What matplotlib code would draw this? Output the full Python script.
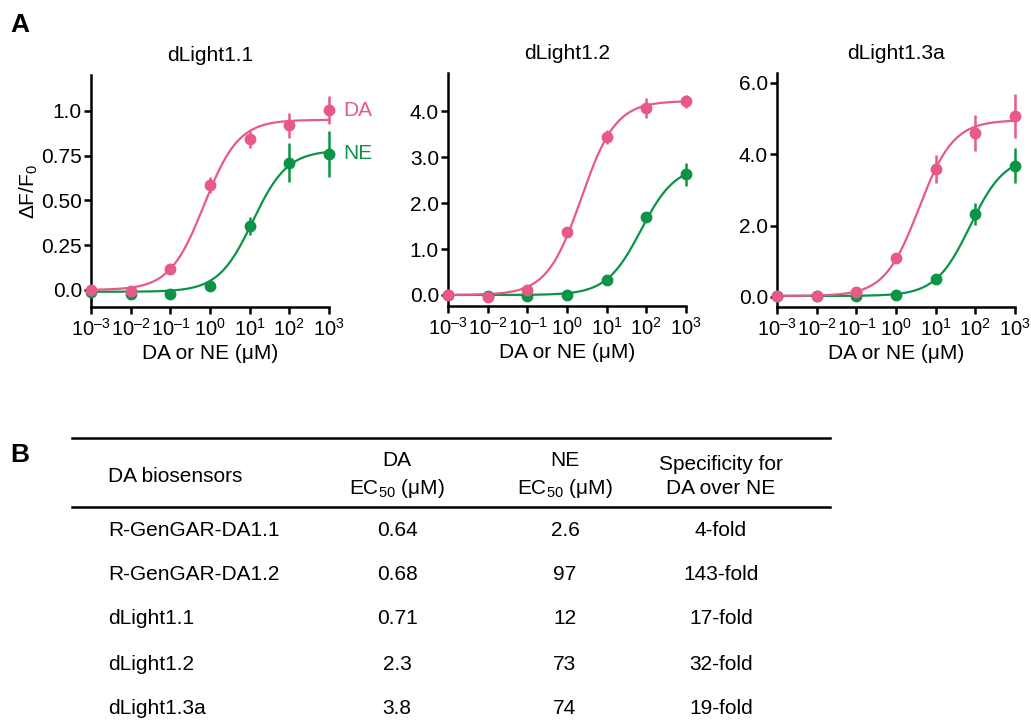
import matplotlib
matplotlib.use("Agg")
import matplotlib.pyplot as plt
import numpy as np

plt.rcParams["font.family"] = ["Liberation Sans", "DejaVu Sans"]
plt.rcParams["mathtext.fontset"] = "custom"
plt.rcParams["mathtext.rm"] = "Liberation Sans"
plt.rcParams["mathtext.it"] = "Liberation Sans:italic"

PINK = "#e8598a"
GREEN = "#0b9446"

# concentracoes (uM)
conc = [1e-3, 1e-2, 1e-1, 1e0, 1e1, 1e2, 1e3]

sensores = ["dLight1.1", "dLight1.2", "dLight1.3a"]

da_vals = [
    [0.0, -0.005, 0.115, 0.585, 0.84, 0.92, 1.005],
    [0.0, -0.04, 0.10, 1.37, 3.43, 4.06, 4.21],
    [0.03, 0.03, 0.13, 1.08, 3.58, 4.59, 5.07],
]
da_err = [
    [0.0, 0.0, 0.0, 0.045, 0.045, 0.07, 0.08],
    [0.0, 0.0, 0.0, 0.0, 0.15, 0.22, 0.15],
    [0.0, 0.0, 0.0, 0.0, 0.4, 0.5, 0.62],
]
ne_vals = [
    [-0.01, -0.02, -0.02, 0.025, 0.355, 0.71, 0.76],
    [0.0, -0.02, -0.02, 0.0, 0.33, 1.70, 2.63],
    [0.03, 0.03, 0.03, 0.06, 0.50, 2.32, 3.68],
]
ne_err = [
    [0.0, 0.0, 0.0, 0.0, 0.05, 0.11, 0.13],
    [0.0, 0.0, 0.0, 0.0, 0.0, 0.1, 0.25],
    [0.0, 0.0, 0.0, 0.0, 0.0, 0.3, 0.48],
]

# parametros do ajuste (Hill, n=1): base, topo, EC50
da_fit = [(0.0, 0.95, 0.71), (0.0, 4.22, 2.3), (0.03, 4.95, 3.8)]
ne_fit = [(-0.01, 0.78, 12), (0.0, 2.82, 73), (0.03, 3.95, 74)]

ylims = [(-0.095, 1.2), (-0.24, 4.83), (-0.28, 6.27)]
yticks = [[0, 0.25, 0.5, 0.75, 1.0], [0, 1, 2, 3, 4], [0, 2, 4, 6]]
ytick_labels = [
    ["0.0", "0.25", "0.50", "0.75", "1.0"],
    ["0.0", "1.0", "2.0", "3.0", "4.0"],
    ["0.0", "2.0", "4.0", "6.0"],
]

# tabela
tab_sensores = ["R-GenGAR-DA1.1", "R-GenGAR-DA1.2", "dLight1.1", "dLight1.2", "dLight1.3a"]
tab_da_ec50 = ["0.64", "0.68", "0.71", "2.3", "3.8"]
tab_ne_ec50 = ["2.6", "97", "12", "73", "74"]
tab_especif = ["4-fold", "143-fold", "17-fold", "32-fold", "19-fold"]

W, H = 1031, 726
fig = plt.figure(figsize=(W / 100, H / 100), dpi=100)

# posicoes em pixels: esquerda, direita, topo, base
boxes = [(91, 329, 75, 307), (448, 686, 73, 306), (777, 1015, 73, 307)]

FS = 15


def hill(x, base, topo, ec50):
    return base + (topo - base) * x / (x + ec50)


def exp_label(e):
    if e >= 0:
        return "10$^{%d}$" % e
    return "10$^{\u2013%d}$" % -e


xs = np.logspace(-3, 3, 300)
for i, (l, r, t, b) in enumerate(boxes):
    ax = fig.add_axes([l / W, (H - b) / H, (r - l) / W, (b - t) / H])
    ax.set_xscale("log")
    ax.set_xlim(1e-3, 1e3)
    ax.set_ylim(*ylims[i])

    for vals, err, fit, color in [
        (ne_vals[i], ne_err[i], ne_fit[i], GREEN),
        (da_vals[i], da_err[i], da_fit[i], PINK),
    ]:
        ax.plot(xs, hill(xs, *fit), color=color, lw=1.6, zorder=2, clip_on=False)
        ax.errorbar(conc, vals, yerr=err, fmt="o", color=color, ms=7.5,
                    elinewidth=1.8, capsize=0, zorder=3, clip_on=False)

    ax.spines["top"].set_visible(False)
    ax.spines["right"].set_visible(False)
    ax.spines["left"].set_linewidth(1.8)
    ax.spines["bottom"].set_linewidth(1.8)
    ax.set_xticks(conc)
    ax.set_xticklabels([exp_label(e) for e in range(-3, 4)])
    ax.xaxis.set_minor_locator(matplotlib.ticker.NullLocator())
    ax.set_yticks(yticks[i])
    ax.set_yticklabels(ytick_labels[i])
    ax.tick_params(width=1.8, length=5, labelsize=FS, pad=1.5)
    ax.tick_params(axis="x", labelsize=14.5, pad=3)
    ax.set_xlabel("DA or NE (\u03bcM)", fontsize=FS, labelpad=3)
    ax.set_title(sensores[i], fontsize=FS, pad=10)
    if i == 0:
        ax.set_ylabel(r"$\Delta$F/F$_0$", fontsize=FS, labelpad=1)
        ax.text(1.06, 1.0, "DA", transform=ax.get_yaxis_transform(), color=PINK,
                fontsize=FS, va="center", ha="left")
        ax.text(1.06, 0.76, "NE", transform=ax.get_yaxis_transform(), color=GREEN,
                fontsize=FS, va="center", ha="left")

# painel B: tabela
tb = fig.add_axes([0, 0, 1, 1], zorder=-1)
tb.set_xlim(0, W)
tb.set_ylim(H, 0)
tb.axis("off")

fig.text(10 / W, 1 - 25 / H, "A", fontsize=19, fontweight="bold", va="center")
fig.text(10 / W, 1 - 455 / H, "B", fontsize=19, fontweight="bold", va="center")

tb.plot([72, 830], [438, 438], color="black", lw=1.8)
tb.plot([72, 830], [507, 507], color="black", lw=1.8)

col_x = [108, 397, 565, 721]
tb.text(col_x[0], 477, "DA biosensors", fontsize=FS, va="center", ha="left")
tb.text(col_x[1], 461, "DA", fontsize=FS, va="center", ha="center")
tb.text(col_x[1], 489, "EC$_{50}$ (\u03bcM)", fontsize=FS, va="center", ha="center")
tb.text(col_x[2], 461, "NE", fontsize=FS, va="center", ha="center")
tb.text(col_x[2], 489, "EC$_{50}$ (\u03bcM)", fontsize=FS, va="center", ha="center")
tb.text(col_x[3], 465, "Specificity for", fontsize=FS, va="center", ha="center")
tb.text(col_x[3], 489, "DA over NE", fontsize=FS, va="center", ha="center")

row_y = [531, 575, 619, 664, 708]
for j, y in enumerate(row_y):
    tb.text(col_x[0], y, tab_sensores[j], fontsize=FS, va="center", ha="left")
    tb.text(col_x[1], y, tab_da_ec50[j], fontsize=FS, va="center", ha="center")
    tb.text(col_x[2], y, tab_ne_ec50[j], fontsize=FS, va="center", ha="center")
    tb.text(col_x[3], y, tab_especif[j], fontsize=FS, va="center", ha="center")

fig.savefig("out.png", dpi=100)
